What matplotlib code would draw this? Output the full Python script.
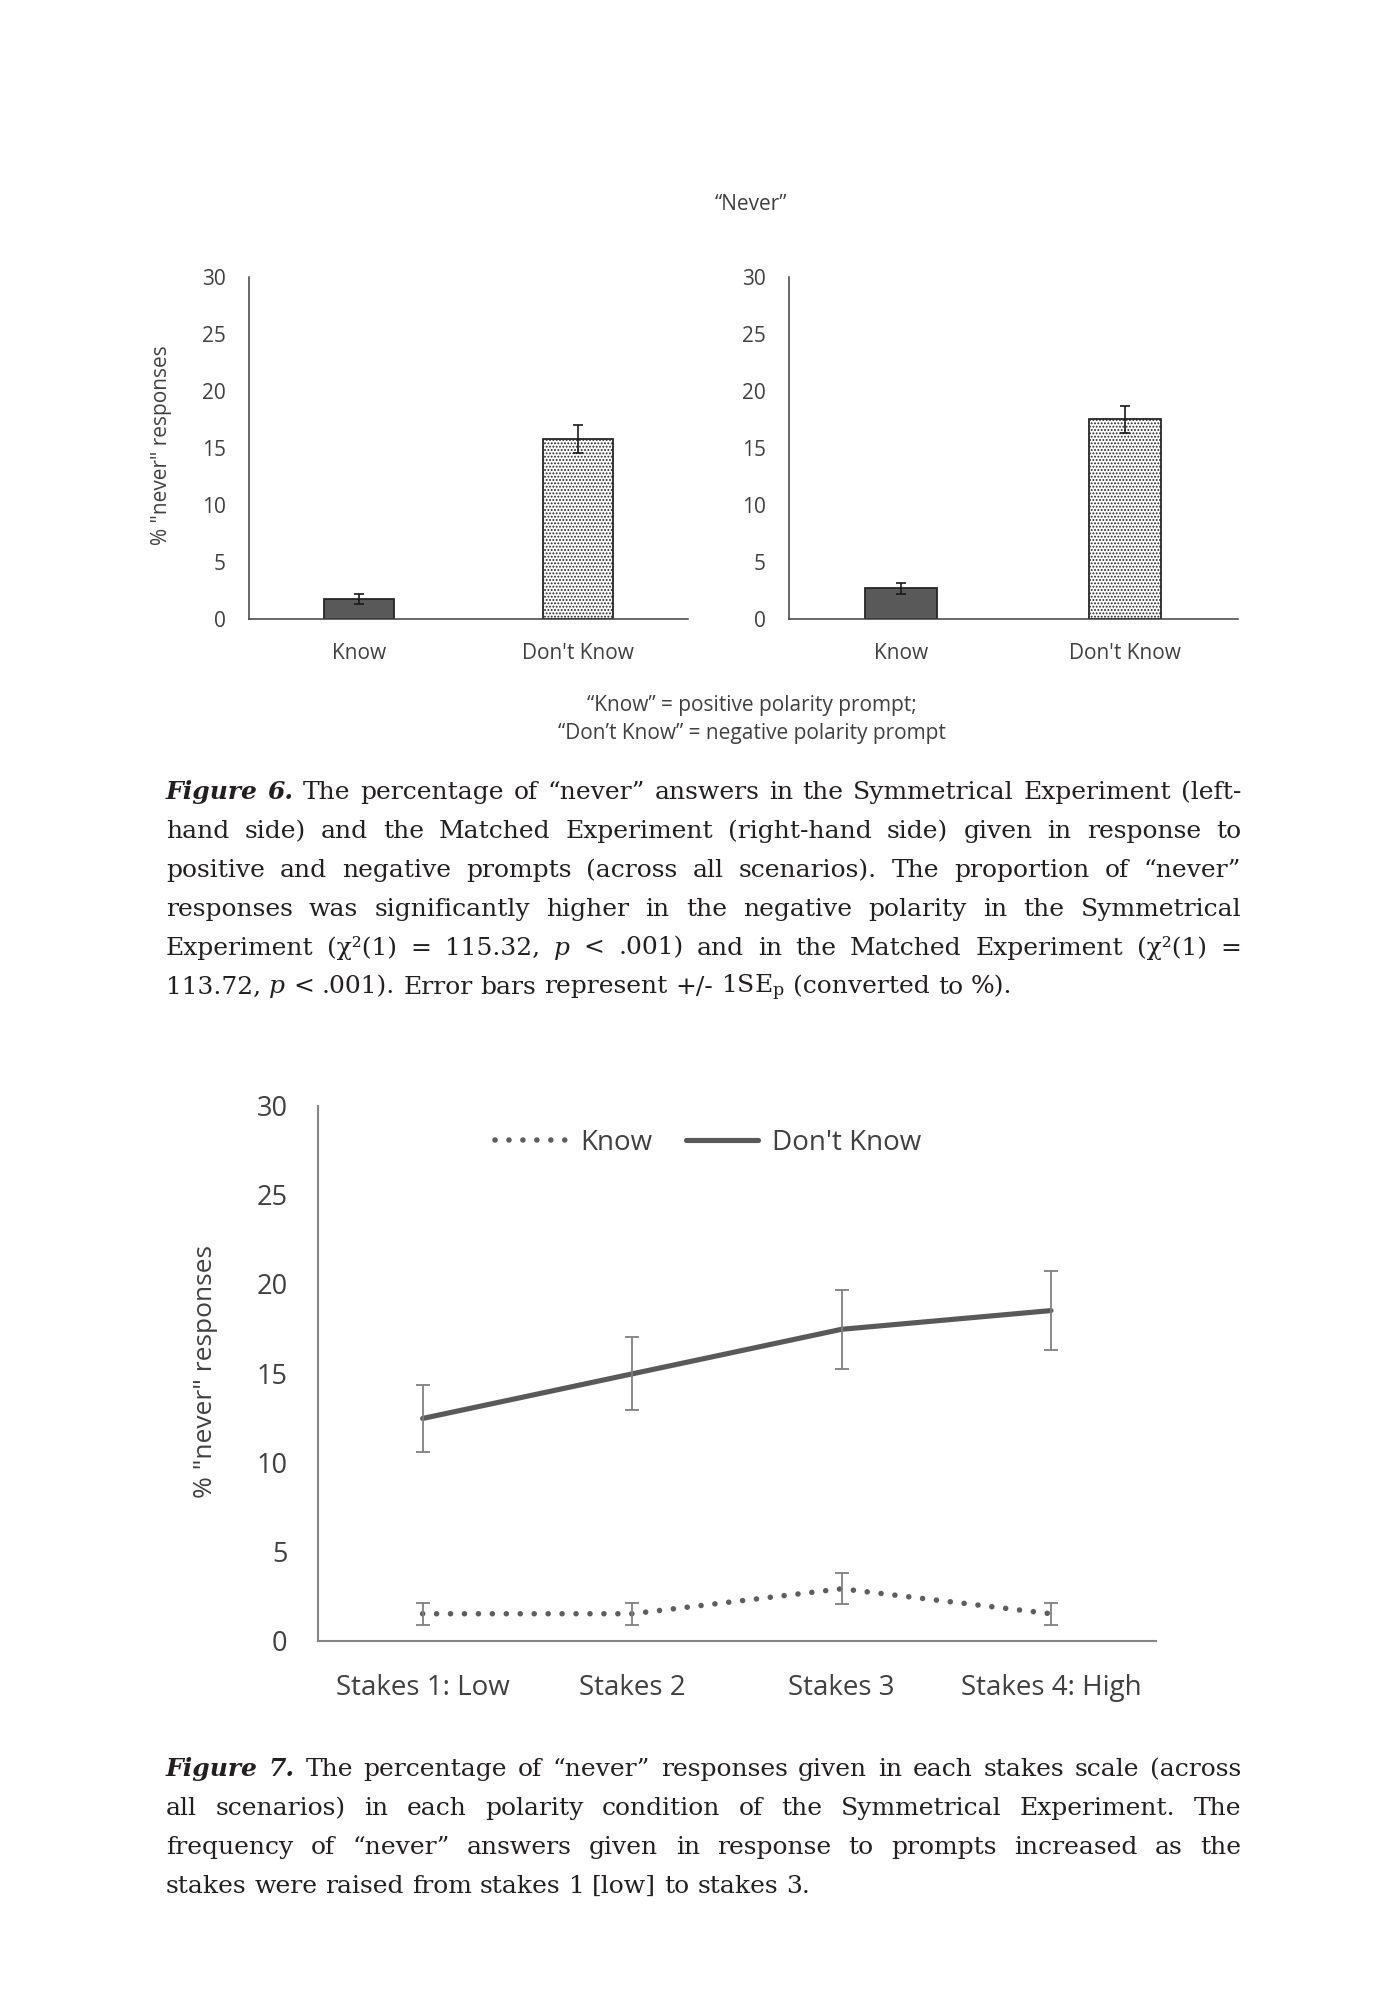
import numpy as np
import matplotlib
matplotlib.use("Agg")
from matplotlib import pyplot as plt

# Figure 6 data: % "never" responses per prompt polarity
fig6_categories = ["Know", "Don't Know"]
symmetrical_values = [1.8, 15.8]
symmetrical_errors = [0.45, 1.2]
matched_values = [2.7, 17.5]
matched_errors = [0.5, 1.17]
pct_ticks = [0, 5, 10, 15, 20, 25, 30]

# Figure 7 data: % "never" responses per stakes level
stakes_labels = ["Stakes 1: Low", "Stakes 2", "Stakes 3", "Stakes 4: High"]
know_values = [1.5, 1.5, 2.9, 1.5]
know_errors = [0.63, 0.63, 0.88, 0.63]
dont_know_values = [12.45, 14.95, 17.45, 18.5]
dont_know_errors = [1.9, 2.05, 2.2, 2.22]

# captions (** = bold italic word, * = italic word)
caption6 = [
    "**Figure **6. The percentage of “never” answers in the Symmetrical Experiment (left-",
    "hand side) and the Matched Experiment (right-hand side) given in response to",
    "positive and negative prompts (across all scenarios). The proportion of “never”",
    "responses was significantly higher in the negative polarity in the Symmetrical",
    "Experiment (χ²(1) = 115.32, *p < .001) and in the Matched Experiment (χ²(1) =",
    "113.72, *p < .001). Error bars represent +/- 1SE$_\\mathrm{p}$ (converted to %).",
]
caption7 = [
    "**Figure **7. The percentage of “never” responses given in each stakes scale (across",
    "all scenarios) in each polarity condition of the Symmetrical Experiment. The",
    "frequency of “never” answers given in response to prompts increased as the",
    "stakes were raised from stakes 1 [low] to stakes 3.",
]

W, H = 1400, 2000
plt.rcParams['font.family'] = ['Open Sans', 'DejaVu Sans']
plt.rcParams['mathtext.fontset'] = 'custom'
plt.rcParams['mathtext.rm'] = 'DejaVu Serif'
plt.rcParams['mathtext.it'] = 'DejaVu Serif:italic'
plt.rcParams['hatch.linewidth'] = 0.9

TXT = '#404040'
SERIF = 'DejaVu Serif'
CAP_SIZE = 18


def fx(x):
    return x / W


def fy(y):
    return 1 - y / H


fig = plt.figure(figsize=(14, 20), dpi=100)
fig.patch.set_facecolor('white')


def bar_panel(rect, values, errors):
    ax = fig.add_axes(rect)
    x = np.arange(len(fig6_categories))
    bars = ax.bar(x, values, width=0.32, color=['#595959', 'white'],
                  edgecolor='#262626', linewidth=1.3, zorder=2)
    bars[1].set_hatch('.....')
    ax.errorbar(x, values, yerr=errors, fmt='none', ecolor='#1a1a1a',
                elinewidth=1.2, capsize=3.3, capthick=1.2, zorder=3)
    ax.set_xlim(-0.5, 1.5)
    ax.set_ylim(0, 30)
    ax.set_yticks(pct_ticks)
    ax.set_xticks(x)
    ax.set_xticklabels(fig6_categories)
    ax.tick_params(axis='y', length=0, pad=16.5, labelsize=15, labelcolor=TXT)
    ax.tick_params(axis='x', length=0, pad=17, labelsize=15, labelcolor=TXT)
    for s in ['top', 'right']:
        ax.spines[s].set_visible(False)
    for s in ['left', 'bottom']:
        ax.spines[s].set_color('#404040')
        ax.spines[s].set_linewidth(1.1)
    return ax


# Figure 6 panels
top6, bot6 = 276.7, 619.3
bar_panel([fx(249), fy(bot6), fx(688) - fx(249), (bot6 - top6) / H],
          symmetrical_values, symmetrical_errors)
bar_panel([fx(788.6), fy(bot6), fx(1237.5) - fx(788.6), (bot6 - top6) / H],
          matched_values, matched_errors)
fig.text(fx(161), fy(445), '% "never" responses', rotation=90, ha='center',
         va='center', fontsize=15, color=TXT)
fig.text(fx(751), fy(204), '“Never”', ha='center', va='center', fontsize=15, color=TXT)
fig.text(fx(752), fy(705), '“Know” = positive polarity prompt;', ha='center',
         va='center', fontsize=15, color=TXT)
fig.text(fx(752), fy(733), '“Don’t Know” = negative polarity prompt', ha='center',
         va='center', fontsize=15, color=TXT)

# Figure 7 line chart
ax7 = fig.add_axes([fx(317.9), fy(1640.5), fx(1155.7) - fx(317.9), (1640.5 - 1105.5) / H])
xs = np.arange(len(stakes_labels))
ax7.plot(xs, know_values, color='#5e5e5e', lw=4, linestyle=(0, (0.01, 2.5)),
         dash_capstyle='round', label='Know', zorder=3)
ax7.plot(xs, dont_know_values, color='#595959', lw=3.7, solid_capstyle='round',
         label="Don't Know", zorder=3)
ax7.errorbar(xs, know_values, yerr=know_errors, fmt='none', ecolor='#808080',
             elinewidth=1.3, capsize=5, capthick=1.3, zorder=4)
ax7.errorbar(xs, dont_know_values, yerr=dont_know_errors, fmt='none', ecolor='#808080',
             elinewidth=1.3, capsize=5, capthick=1.3, zorder=4)
ax7.set_xlim(-0.5, 3.5)
ax7.set_ylim(0, 30)
ax7.set_yticks(pct_ticks)
ax7.set_xticks(xs)
ax7.set_xticklabels(stakes_labels)
ax7.tick_params(axis='y', length=0, pad=22, labelsize=19.5, labelcolor=TXT)
ax7.tick_params(axis='x', length=0, pad=24, labelsize=20, labelcolor=TXT)
for s in ['top', 'right']:
    ax7.spines[s].set_visible(False)
for s in ['left', 'bottom']:
    ax7.spines[s].set_color('#868686')
    ax7.spines[s].set_linewidth(1.5)
ax7.legend(loc='center', bbox_to_anchor=(fx(708), fy(1143)), bbox_transform=fig.transFigure,
           ncol=2, frameon=False, fontsize=20, handlelength=2.6, handletextpad=0.5,
           columnspacing=1.2, labelcolor=TXT)
fig.text(fx(206), fy(1372), '% "never" responses', rotation=90, ha='center',
         va='center', fontsize=19, color=TXT)


# justified captions
renderer = fig.canvas.get_renderer()


def word_style(w):
    if w.startswith('**'):
        return w[2:], 'italic', 'bold'
    if w.startswith('*'):
        return w[1:], 'italic', 'normal'
    return w, 'normal', 'normal'


def put_caption(lines, first_baseline, step, x0=166, x1=1241):
    sp = fig.text(0, 0, 'a a', fontsize=CAP_SIZE, family=SERIF)
    nosp = fig.text(0, 0, 'aa', fontsize=CAP_SIZE, family=SERIF)
    space = sp.get_window_extent(renderer).width - nosp.get_window_extent(renderer).width
    sp.remove()
    nosp.remove()
    for i, line in enumerate(lines):
        y = first_baseline + i * step
        texts = []
        for w in line.split(' '):
            s, style, weight = word_style(w)
            texts.append(fig.text(0, fy(y), s, fontsize=CAP_SIZE, family=SERIF,
                                  style=style, weight=weight, color='#231f20',
                                  va='baseline', ha='left'))
        widths = [t.get_window_extent(renderer).width for t in texts]
        if i == len(lines) - 1:
            gap = space
        else:
            gap = (x1 - x0 - sum(widths)) / (len(texts) - 1)
        x = x0
        for t, wd in zip(texts, widths):
            t.set_x(fx(x))
            x += wd + gap


put_caption(caption6, 799, 38.9)
put_caption(caption7, 1776, 38.9)

fig.savefig('out.png', dpi=100)
